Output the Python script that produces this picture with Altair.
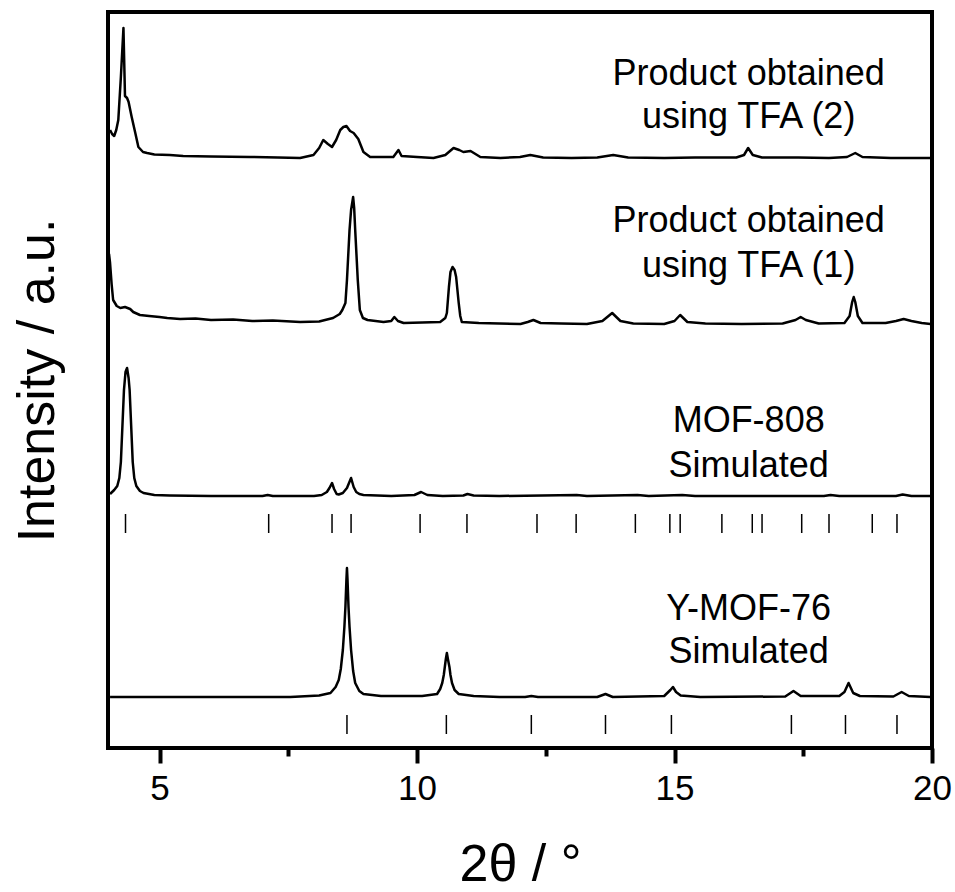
import altair as alt
import pandas as pd

# ---------------- data ----------------
SERIES = ["TFA (2)", "TFA (1)", "MOF-808 simulated", "Y-MOF-76 simulated"]
# vertical offset of each pattern (a.u.)
OFFSETS = [590, 424, 252, 51]

# (2theta, intensity above own baseline)
TFA2 = [(4.04, 28), (4.08, 24), (4.12, 22), (4.16, 28), (4.20, 38), (4.25, 81), (4.30, 130),
        (4.33, 62), (4.37, 60), (4.40, 56), (4.46, 41), (4.53, 25), (4.59, 11), (4.68, 6),
        (4.76, 5), (4.90, 3.5), (5.20, 3), (5.46, 2), (6.0, 1.5), (6.76, 1), (7.3, 0.5),
        (7.73, 0), (7.99, 3), (8.10, 10), (8.18, 18), (8.27, 14), (8.35, 11), (8.43, 18),
        (8.51, 28), (8.57, 31), (8.63, 32), (8.70, 27), (8.77, 25), (8.86, 19), (8.96, 6),
        (9.09, 1), (9.54, 1), (9.64, 8), (9.70, 2), (10.0, 1), (10.32, 0), (10.55, 3),
        (10.71, 10), (10.82, 8), (10.90, 6), (11.04, 7), (11.23, 1), (11.62, 0), (12.0, 1),
        (12.20, 3), (12.45, 0.5), (13.0, 0), (13.5, 0.5), (13.81, 3), (14.1, 0.5), (14.8, 0),
        (15.4, 0.5), (16.2, 0.5), (16.35, 3), (16.43, 10), (16.52, 3), (16.7, 0.5), (17.4, 0.5),
        (18.0, 0), (18.35, 1), (18.51, 5), (18.65, 1), (19.2, 0), (19.97, 0)]

TFA1 = [(4.02, 70), (4.04, 61), (4.07, 40), (4.10, 24), (4.17, 18), (4.24, 16), (4.33, 17),
        (4.43, 15), (4.49, 12), (4.62, 9), (4.80, 8), (5.0, 7), (5.15, 6), (5.4, 5), (5.7, 5.5),
        (6.0, 4), (6.43, 4.5), (6.8, 3), (7.2, 3.5), (7.73, 2), (8.1, 2.5), (8.37, 6), (8.50, 10),
        (8.55, 14), (8.61, 21), (8.64, 44), (8.69, 94), (8.72, 114), (8.76, 127), (8.78, 116),
        (8.80, 94), (8.85, 44), (8.89, 14), (8.95, 6), (9.04, 4), (9.35, 2), (9.50, 3), (9.56, 7),
        (9.63, 3), (9.74, 1), (10.1, 1.5), (10.45, 2), (10.55, 6), (10.58, 11), (10.62, 37),
        (10.65, 52), (10.69, 57), (10.73, 54), (10.76, 47), (10.81, 21), (10.84, 8), (10.87, 2),
        (11.2, 1), (11.6, 0.5), (12.01, 0), (12.15, 2), (12.26, 4), (12.4, 1), (12.8, 0.5),
        (13.3, 0), (13.6, 3), (13.79, 11), (13.95, 3), (14.2, 0.5), (14.8, 0), (15.0, 3),
        (15.11, 9), (15.25, 2), (15.6, 0.5), (16.3, 0), (17.1, 0.5), (17.35, 4), (17.45, 7),
        (17.55, 4), (17.8, 0.5), (18.3, 1), (18.40, 8), (18.45, 22), (18.48, 27), (18.51, 22),
        (18.56, 8), (18.65, 1), (19.1, 1), (19.3, 3), (19.45, 5), (19.6, 3), (19.8, 1), (19.97, 0)]

MOF808 = [(4.04, 2), (4.12, 6), (4.18, 10), (4.22, 18), (4.25, 34), (4.28, 70), (4.31, 106),
          (4.34, 124), (4.37, 128), (4.40, 118), (4.42, 106), (4.45, 70), (4.48, 34), (4.51, 18),
          (4.55, 10), (4.62, 5), (4.69, 3), (4.9, 1), (5.2, 0.5), (6.0, 0), (7.0, 0),
          (7.1, 1), (7.2, 0), (8.0, 0), (8.15, 1), (8.25, 4), (8.30, 8), (8.35, 13), (8.39, 7),
          (8.44, 2), (8.48, 1.5), (8.56, 3), (8.64, 8), (8.72, 18), (8.77, 9), (8.82, 4),
          (8.88, 2), (8.96, 1), (9.5, 0), (9.95, 1), (10.08, 4), (10.2, 1), (10.5, 0),
          (10.9, 0.5), (10.98, 2), (11.1, 0.5), (11.6, 0), (13.1, 1), (13.3, 0), (14.28, 1),
          (14.5, 0), (15.15, 1), (15.4, 0), (17.9, 0), (18.03, 1), (18.2, 0), (19.3, 0),
          (19.43, 1.5), (19.6, 0), (19.97, 0)]

YMOF76 = [(4.04, 0), (6.0, 0), (7.54, 0), (8.10, 1.5), (8.32, 4), (8.42, 10), (8.48, 17),
          (8.52, 28), (8.56, 47), (8.59, 70), (8.61, 90), (8.63, 118), (8.64, 129), (8.65, 118),
          (8.67, 90), (8.69, 70), (8.72, 47), (8.76, 26), (8.80, 14), (8.88, 6), (8.96, 3),
          (9.3, 1), (10.1, 1), (10.39, 3), (10.45, 8), (10.49, 14), (10.52, 22), (10.54, 30),
          (10.56, 38), (10.58, 44), (10.60, 38), (10.63, 30), (10.65, 22), (10.68, 14),
          (10.73, 7), (10.81, 3), (11.1, 1), (11.6, 0), (12.1, 0), (12.22, 1), (12.35, 0),
          (13.5, 0), (13.66, 3), (13.8, 0), (14.8, 1), (14.92, 7), (14.97, 10), (15.03, 5),
          (15.12, 1.5), (15.5, 0), (17.15, 0.5), (17.31, 6), (17.45, 1), (18.2, 1), (18.30, 5),
          (18.38, 14), (18.47, 4), (18.6, 1), (19.25, 0.5), (19.41, 5), (19.55, 1), (19.97, 0)]

TRACES = [TFA2, TFA1, MOF808, YMOF76]

# reference reflection positions (2theta)
MOF808_REFS = [4.34, 7.12, 8.35, 8.72, 10.06, 10.97, 12.33, 13.09, 14.24, 14.91, 15.11,
               15.92, 16.51, 16.70, 17.47, 18.00, 18.84, 19.32]
YMOF76_REFS = [8.64, 10.57, 12.22, 13.66, 14.94, 17.27, 18.32, 19.32]

# labels: lines of text and baseline heights (a.u.)
LABEL_TEXT = ["Product obtained", "using TFA (2)",
              "Product obtained", "using TFA (1)",
              "MOF-808", "Simulated",
              "Y-MOF-76", "Simulated"]
LABEL_Y = [663, 620, 516, 471, 316, 271, 128, 85]
LABEL_X = 16.44

X_TICKS = [5, 7.5, 10, 12.5, 15, 17.5, 20]

# ---------------- build tables ----------------
rows = []
for name, off, pts in zip(SERIES, OFFSETS, TRACES):
    for x, i in pts:
        rows.append({"series": name, "two_theta": x, "intensity": i + off})
lines_df = pd.DataFrame(rows)

TICK_GAP = 18
TICK_LEN = 19
ref_rows = []
for name, off, refs in [(SERIES[2], OFFSETS[2], MOF808_REFS), (SERIES[3], OFFSETS[3], YMOF76_REFS)]:
    for r in refs:
        ref_rows.append({"series": name, "two_theta": r,
                         "top": off - TICK_GAP, "bottom": off - TICK_GAP - TICK_LEN})
ref_df = pd.DataFrame(ref_rows)

label_df = pd.DataFrame({"text": LABEL_TEXT, "y": LABEL_Y, "x": [LABEL_X] * len(LABEL_TEXT)})

FONT = "Liberation Sans"

x_scale = alt.Scale(domain=[4, 20], nice=False, zero=False)
y_scale = alt.Scale(domain=[0, 736], nice=False, zero=False)

x_axis = alt.Axis(
    values=X_TICKS,
    labelExpr="datum.value % 5 === 0 ? format(datum.value, 'd') : ''",
    tickSize={"condition": {"test": "datum.value % 5 === 0", "value": 15}, "value": 8},
    tickWidth=4, tickColor="black",
    labelFontSize=35, labelPadding=8, labelFlush=False, labelOverlap=False,
    labelFont=FONT, labelColor="black",
    domain=False, grid=False,
    title="2θ / °", titleFontSize=52, titleFontWeight="normal", titleFont=FONT,
    titleColor="black", titleX=412, titleY=132, titleBaseline="alphabetic", titleAlign="center",
)
y_axis = alt.Axis(
    labels=False, ticks=False, domain=False, grid=False,
    title="Intensity / a.u.", titleFontSize=52, titleFontWeight="normal", titleFont=FONT,
    titleColor="black", titleX=-55, titleY=368, titleBaseline="alphabetic", titleAlign="center",
    titleAngle=270,
)

lines = alt.Chart(lines_df).mark_line(color="black", strokeWidth=2.5, strokeJoin="round").encode(
    x=alt.X("two_theta:Q", scale=x_scale, axis=x_axis),
    y=alt.Y("intensity:Q", scale=y_scale, axis=y_axis),
    detail="series:N",
    order="two_theta:Q",
)

refs = alt.Chart(ref_df).mark_rule(color="black", strokeWidth=1.5).encode(
    x=alt.X("two_theta:Q", scale=x_scale),
    y=alt.Y("top:Q", scale=y_scale),
    y2="bottom:Q",
)

labels = alt.Chart(label_df).mark_text(
    font=FONT, fontSize=36, color="black", align="center", baseline="alphabetic"
).encode(
    x=alt.X("x:Q", scale=x_scale),
    y=alt.Y("y:Q", scale=y_scale),
    text="text:N",
)

chart = alt.layer(lines, refs, labels).properties(
    width=824, height=736,
    autosize=alt.AutoSizeParams(type="none"),
    padding={"left": 108, "top": 12, "right": 23, "bottom": 144},
    background="white",
).configure_view(stroke="black", strokeWidth=4)

chart.save("out.html", embed_options={"renderer": "svg", "actions": False})
